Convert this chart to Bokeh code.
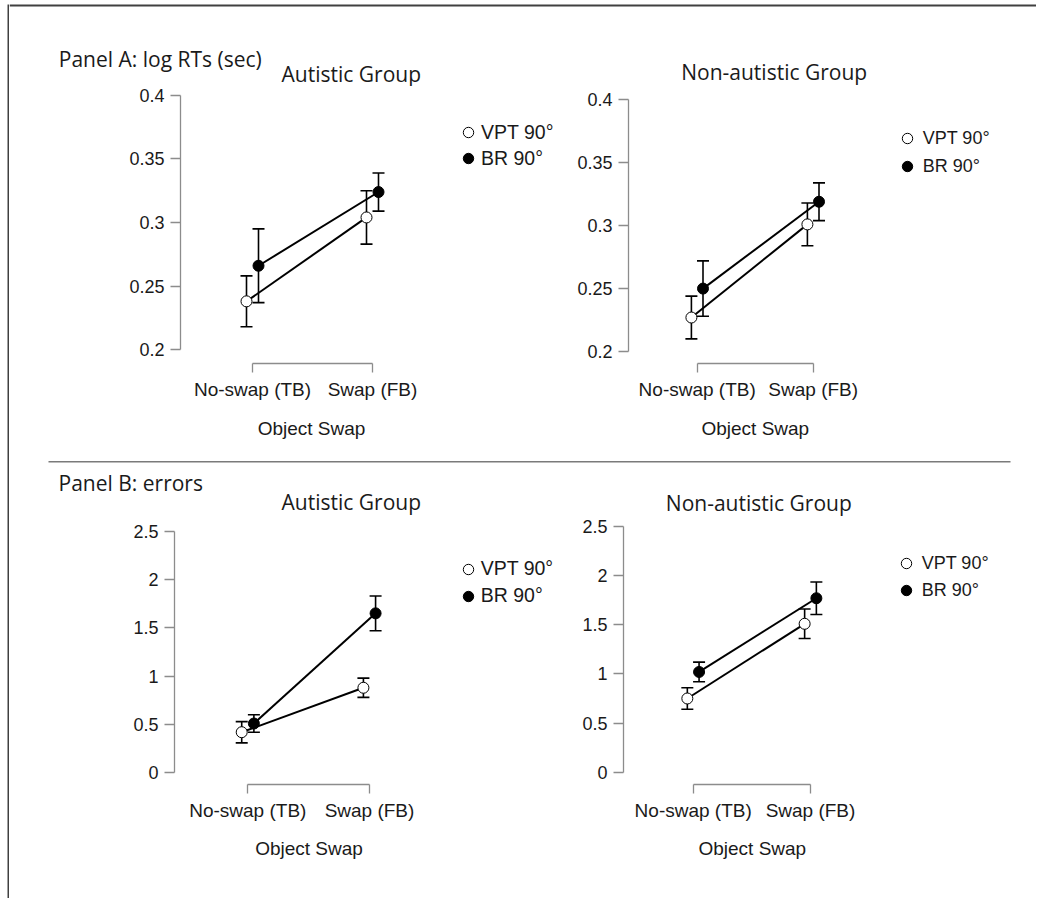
import numpy as np
from bokeh.plotting import figure
from bokeh.models import (Range1d, FixedTicker, Whisker, ColumnDataSource, Label,
                          Legend, LegendItem, TeeHead, Spacer)
from bokeh.layouts import row, column
from bokeh.embed import file_html
from bokeh.resources import INLINE

# ---------------- data ----------------
conditions = ["No-swap (TB)", "Swap (FB)"]
series_names = ["VPT 90°", "BR 90°"]
x_axis_title = "Object Swap"
panel_labels = ["Panel A: log RTs (sec)", "Panel B: errors"]
group_titles = ["Autistic Group", "Non-autistic Group"]

rt_ticks = [0.2, 0.25, 0.3, 0.35, 0.4]
rt_tick_labels = ["0.2", "0.25", "0.3", "0.35", "0.4"]
err_ticks = [0, 0.5, 1, 1.5, 2, 2.5]
err_tick_labels = ["0", "0.5", "1", "1.5", "2", "2.5"]

# Panel A: log RTs (sec)  (means and error-bar half widths)
rt_aut_vpt = [0.238, 0.304]
rt_aut_vpt_se = [0.020, 0.021]
rt_aut_br = [0.266, 0.324]
rt_aut_br_se = [0.029, 0.015]
rt_non_vpt = [0.227, 0.301]
rt_non_vpt_se = [0.017, 0.017]
rt_non_br = [0.250, 0.319]
rt_non_br_se = [0.022, 0.015]

# Panel B: errors
er_aut_vpt = [0.42, 0.88]
er_aut_vpt_se = [0.11, 0.10]
er_aut_br = [0.51, 1.65]
er_aut_br_se = [0.09, 0.18]
er_non_vpt = [0.75, 1.51]
er_non_vpt_se = [0.11, 0.15]
er_non_br = [1.02, 1.77]
er_non_br_se = [0.10, 0.165]

# ---------------- styling ----------------
AX_FONT = "Liberation Sans"
TITLE_FONT = "Open Sans"
INK = "#1a1a1a"
AXIS_GREY = "#8c8c8c"
BORDER = "#404040"
SEP = "#7a7a7a"
DODGE = 0.05


def make_panel(W, H, axis_px, frame_bottom, ylo, yhi, ylo_px, yhi_px,
               cat0_px, cat1_px, ticks, tick_labels, vpt, vpt_se, br, br_se,
               legend_xy, legend_gap, legend_font, legend_standoff):
    fl = int(round(axis_px))
    fr = W
    ky = (ylo_px - yhi_px) / (yhi - ylo)
    y_start = ylo - (frame_bottom - ylo_px) / ky
    y_end = yhi + (yhi_px - 0) / ky
    kx = cat1_px - cat0_px
    x_start = (fl - cat0_px) / kx
    x_end = (fr - cat0_px) / kx

    p = figure(width=W, height=H, x_range=Range1d(x_start, x_end),
               y_range=Range1d(y_start, y_end), output_backend="svg",
               toolbar_location=None, min_border_left=fl,
               min_border_right=0, min_border_top=0,
               min_border_bottom=H - frame_bottom)
    p.outline_line_color = None
    p.grid.visible = False
    p.background_fill_color = "white"
    p.border_fill_color = "white"

    xa = p.xaxis[0]
    xa.bounds = (0, len(conditions) - 1)
    xa.ticker = FixedTicker(ticks=list(range(len(conditions))))
    xa.major_label_overrides = {i: c for i, c in enumerate(conditions)}
    xa.minor_tick_line_color = None
    xa.major_tick_out = 9
    xa.major_tick_in = 0
    xa.axis_line_color = AXIS_GREY
    xa.major_tick_line_color = AXIS_GREY
    xa.axis_line_width = 1.3
    xa.major_tick_line_width = 1.3
    xa.major_label_standoff = 6
    xa.major_label_text_font = AX_FONT
    xa.major_label_text_font_size = "19px"
    xa.major_label_text_color = INK

    ya = p.yaxis[0]
    ya.bounds = (ylo, yhi)
    ya.ticker = FixedTicker(ticks=ticks)
    ya.major_label_overrides = dict(zip(ticks, tick_labels))
    ya.minor_tick_line_color = None
    ya.major_tick_out = 10
    ya.major_tick_in = 0
    ya.axis_line_color = AXIS_GREY
    ya.major_tick_line_color = AXIS_GREY
    ya.axis_line_width = 1.3
    ya.major_tick_line_width = 1.3
    ya.major_label_standoff = 6
    ya.major_label_text_font = AX_FONT
    ya.major_label_text_font_size = "18px"
    ya.major_label_text_color = INK

    xs = np.arange(len(conditions))
    srcs = []
    for vals, se, off in ((vpt, vpt_se, -DODGE), (br, br_se, DODGE)):
        v = np.array(vals, dtype=float)
        e = np.array(se, dtype=float)
        srcs.append(ColumnDataSource(dict(x=xs + off, y=v, lo=v - e, hi=v + e)))

    for s in srcs:
        p.line("x", "y", source=s, line_color="black", line_width=2)
    for s in srcs:
        p.add_layout(Whisker(base="x", upper="hi", lower="lo", source=s,
                             line_color="black", line_width=1.6,
                             upper_head=TeeHead(size=12, line_color="black", line_width=1.6),
                             lower_head=TeeHead(size=12, line_color="black", line_width=1.6)))
    r_vpt = p.scatter("x", "y", source=srcs[0], size=11, fill_color="white",
                      line_color="black", line_width=1)
    r_br = p.scatter("x", "y", source=srcs[1], size=11, fill_color="black",
                     line_color="black", line_width=1)

    gh = 26
    cx, cy = legend_xy
    leg_left = cx - gh / 2 - fl
    leg_bottom = cy - gh / 2 + 2 * gh + legend_gap
    legend = Legend(items=[LegendItem(label=series_names[0], renderers=[r_vpt]),
                           LegendItem(label=series_names[1], renderers=[r_br])],
                    location=(leg_left, frame_bottom - leg_bottom),
                    glyph_width=gh, glyph_height=gh, spacing=legend_gap,
                    padding=0, margin=0, label_standoff=legend_standoff,
                    border_line_color=None, background_fill_alpha=0,
                    label_text_font=AX_FONT, label_text_font_size=legend_font,
                    label_text_color=INK)
    p.add_layout(legend)
    return p


def strip(W, H, texts, seps):
    h = figure(width=W, height=H, x_range=Range1d(0, W), y_range=Range1d(H, 0),
               x_axis_type=None, y_axis_type=None, min_border=0,
               toolbar_location=None, output_backend="svg",
               outline_line_color=None)
    h.grid.visible = False
    for (txt, x, y, align, font, size) in texts:
        h.add_layout(Label(x=x, y=y, text=txt, text_font=font,
                           text_font_size=size, text_color=INK,
                           text_align=align, text_baseline="middle"))
    for (x0, x1, y, col, lw) in seps:
        h.segment(x0=[x0], y0=[y], x1=[x1], y1=[y], line_color=col, line_width=lw)
    return h


def block(w, h, color):
    return figure(width=w, height=h, x_axis_type=None, y_axis_type=None,
                  min_border=0, toolbar_location=None, output_backend="svg",
                  outline_line_color=None, background_fill_color=color,
                  border_fill_color=color)


# plots (pixel geometry is in each figure's own canvas)
p_tl = make_panel(557, 324, 171, 280, 0.2, 0.4, 266, 9, 243, 363,
                  rt_ticks, rt_tick_labels, rt_aut_vpt, rt_aut_vpt_se,
                  rt_aut_br, rt_aut_br_se, (459, 49), 0, "19.5px", -1)
p_tr = make_panel(470, 324, 62, 277, 0.2, 0.4, 265, 13.3, 130.7, 246.7,
                  rt_ticks, rt_tick_labels, rt_non_vpt, rt_non_vpt_se,
                  rt_non_br, rt_non_br_se, (340.7, 52.3), 2, "18px", 3)
p_bl = make_panel(557, 314, 165, 268, 0, 2.5, 256.3, 14.7, 238.3, 360,
                  err_ticks, err_tick_labels, er_aut_vpt, er_aut_vpt_se,
                  er_aut_br, er_aut_br_se, (458.7, 52.7), 1, "19.5px", -1)
p_br = make_panel(470, 314, 57, 268, 0, 2.5, 255.7, 10, 126.7, 244,
                  err_ticks, err_tick_labels, er_non_vpt, er_non_vpt_se,
                  er_non_br, er_non_br_se, (339.7, 47.3), 1, "18px", 3)

T = "21px"
A = "19px"
s_top = strip(1027, 86, [(panel_labels[0], 49.3, 58.3, "left", TITLE_FONT, T),
                         (group_titles[0], 341.8, 73, "center", TITLE_FONT, T),
                         (group_titles[1], 764.7, 71.2, "center", TITLE_FONT, T)],
              [(0, 1027, 5, BORDER, 2)])
s_mid = strip(1027, 106, [(x_axis_title, 302, 18, "center", AX_FONT, A),
                          (x_axis_title, 745.8, 18, "center", AX_FONT, A),
                          (panel_labels[1], 49, 72.7, "left", TITLE_FONT, T),
                          (group_titles[0], 341.8, 91.7, "center", TITLE_FONT, T),
                          (group_titles[1], 749.3, 92.3, "center", TITLE_FONT, T)],
              [(39, 1001, 51.2, SEP, 1.5)])
s_bot = strip(1027, 68, [(x_axis_title, 299.5, 17.7, "center", AX_FONT, A),
                         (x_axis_title, 742.8, 17.7, "center", AX_FONT, A)], [])

body = column(s_top, row(p_tl, p_tr), s_mid, row(p_bl, p_br), s_bot)
layout = row(Spacer(width=7, height=898),
             column(Spacer(width=2, height=4), block(2, 894, BORDER)),
             body)

open("out.html", "w").write(file_html(layout, INLINE))
